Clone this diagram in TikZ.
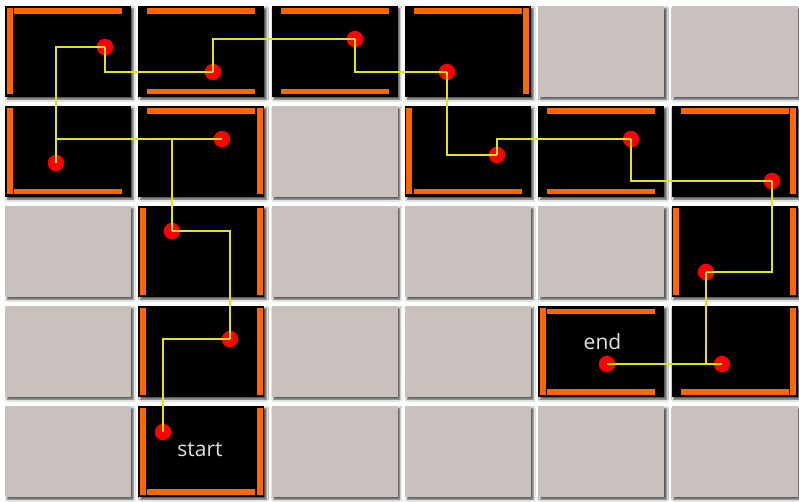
\documentclass[tikz,border=0pt]{standalone}
\usepackage{fontspec}
\setmainfont{Open Sans}
\usetikzlibrary{shadows.blur}
\definecolor{cellgrey}{RGB}{201,193,189}
\definecolor{wallc}{RGB}{255,102,0}
\definecolor{pathc}{RGB}{228,228,20}
\definecolor{labelc}{RGB}{225,225,225}
\begin{document}
\begin{tikzpicture}[x=1pt,y=-1pt,
  cellbox/.style={fill=cellgrey,blur shadow={shadow xshift=2.2pt,shadow yshift=-2.2pt,shadow blur radius=2pt,shadow opacity=70}},
  blackbox/.style={fill=black},
  wallbar/.style={fill=wallc},
  dot/.style={circle,fill=red,minimum size=16.5pt,inner sep=0pt},
  route/.style={draw=pathc,line width=1.7pt},
  lbl/.style={text=labelc,font=\fontsize{21}{24}\selectfont,inner sep=0pt,anchor=base}]
\useasboundingbox[fill=white] (0,0) rectangle (799,502);
% grid of cells
\foreach \c in {0,...,5}{
  \foreach \r in {0,...,4}{
    \pgfmathsetmacro{\xa}{5+133.3*\c}
    \pgfmathsetmacro{\ya}{6+100*\r}
    \fill[cellbox] (\xa,\ya) rectangle ++(126,91);
  }
}
% black (visited) cells with walls: col/row/left/top/right/bottom
\foreach \c/\r/\L/\T/\R/\B in {0/0/1/1/0/0, 1/0/0/1/0/1, 2/0/0/1/0/1, 3/0/0/1/1/0,
  0/1/1/0/0/1, 1/1/0/1/1/0, 3/1/1/0/0/1, 4/1/0/1/0/1, 5/1/0/1/1/0,
  1/2/1/0/1/0, 5/2/1/0/1/0, 1/3/1/0/1/0, 4/3/1/1/0/1, 5/3/0/0/1/1, 1/4/1/0/1/1}{
    \pgfmathsetmacro{\xa}{5+133.3*\c}
    \pgfmathsetmacro{\ya}{6+100*\r}
    \fill[blackbox] (\xa,\ya) rectangle ++(126,91);
    \ifnum\L=1 \fill[wallbar] (\xa+1.5,\ya+2) rectangle (\xa+7.5,\ya+88.5);\fi
    \ifnum\R=1 \fill[wallbar] (\xa+118.5,\ya+2) rectangle (\xa+124.5,\ya+88.5);\fi
    \ifnum\T=1 \fill[wallbar] (\xa+9,\ya+2.5) rectangle (\xa+117,\ya+8);\fi
    \ifnum\B=1 \fill[wallbar] (\xa+9,\ya+83) rectangle (\xa+117,\ya+88.5);\fi
}
% path dots
\node[dot] (d1) at (163,432) {};
\node[dot] (d2) at (230,339) {};
\node[dot] (d3) at (172,231) {};
\node[dot] (d4) at (222,139) {};
\node[dot] (d5) at (56,163) {};
\node[dot] (d6) at (105,47) {};
\node[dot] (d7) at (213,72) {};
\node[dot] (d8) at (355,39) {};
\node[dot] (d9) at (447,72) {};
\node[dot] (d10) at (497,155) {};
\node[dot] (d11) at (631,139) {};
\node[dot] (d12) at (772,181) {};
\node[dot] (d13) at (706,272) {};
\node[dot] (d14) at (722,364) {};
\node[dot] (d15) at (607,364) {};
% route
\draw[route] (d1.center) |- (d2.center);
\draw[route] (d2.center) |- (d3.center);
\draw[route] (d3.center) |- (d4.center);
\draw[route] (d4.center) -| (d5.center);
\draw[route] (d5.center) |- (d6.center);
\draw[route] (d6.center) |- (d7.center);
\draw[route] (d7.center) |- (d8.center);
\draw[route] (d8.center) |- (d9.center);
\draw[route] (d9.center) |- (d10.center);
\draw[route] (d10.center) |- (d11.center);
\draw[route] (d11.center) |- (d12.center);
\draw[route] (d12.center) |- (d13.center);
\draw[route] (d13.center) |- (d14.center);
\draw[route] (d14.center) -- (d15.center);
% labels
\node[lbl] (startlbl) at (200,456) {start};
\node[lbl] (endlbl) at (602.5,349) {end};
\end{tikzpicture}
\end{document}
